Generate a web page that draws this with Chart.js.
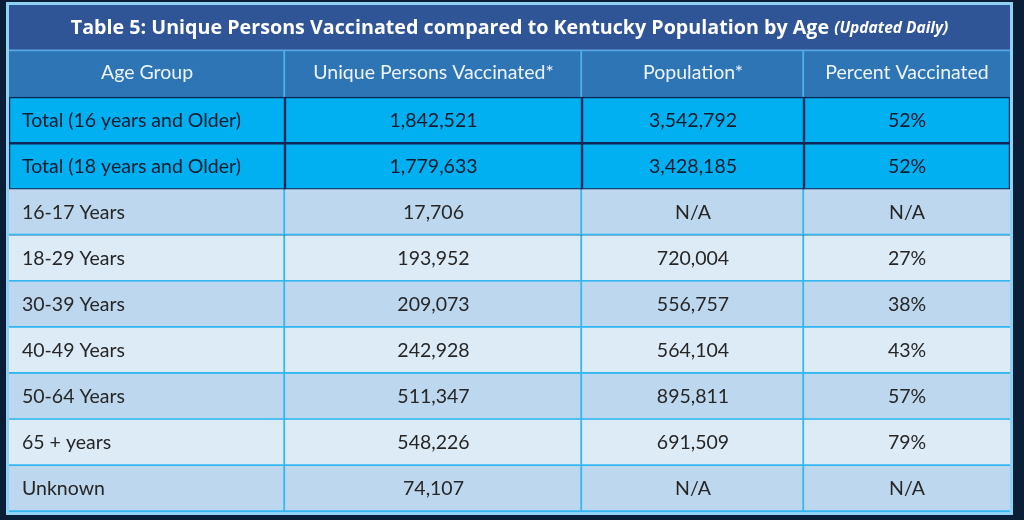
<!DOCTYPE html>
<html>
<head>
<meta charset="utf-8">
<script src="https://cdn.jsdelivr.net/npm/chart.js@4"></script>
<style>
  html, body { margin: 0; padding: 0; background: #0b1e38; }
  #wrap { width: 1024px; height: 520px; }
</style>
</head>
<body>
<div id="wrap"><canvas id="vaxTable" width="1024" height="520"></canvas></div>
<script>
// Table data
const tableTitle = 'Table 5: Unique Persons Vaccinated compared to Kentucky Population by Age';
const tableSubtitle = '(Updated Daily)';
const columnHeaders = ['Age Group', 'Unique Persons Vaccinated*', 'Population*', 'Percent Vaccinated'];
const ageGroups = ['Total (16 years and Older)', 'Total (18 years and Older)', '16-17 Years', '18-29 Years',
  '30-39 Years', '40-49 Years', '50-64 Years', '65 + years', 'Unknown'];
const vaccinated = [1842521, 1779633, 17706, 193952, 209073, 242928, 511347, 548226, 74107];
const population = [3542792, 3428185, null, 720004, 556757, 564104, 895811, 691509, null];
const pctVaccinated = [52, 52, null, 27, 38, 43, 57, 79, null];
const totalRows = 2;

// layout (x scale units), column edges
const colEdges = [0, 276, 573, 795, 1001];

const rowLabels = ['title', 'header'].concat(ageGroups);
const fmt = v => v === null ? 'N/A' : v.toLocaleString('en-US');
const pct = v => v === null ? 'N/A' : v + '%';

const cellText = ageGroups.map((g, i) => [g, fmt(vaccinated[i]), fmt(population[i]), pct(pctVaccinated[i])]);

function rowKind(i) {
  if (i === 0) return 'title';
  if (i === 1) return 'header';
  if (i - 2 < totalRows) return 'total';
  return ((i - 2 - totalRows) % 2 === 0) ? 'odd' : 'even';
}

const fills = { title: '#2f5597', header: '#2e75b6', total: '#00b0f0', odd: '#bdd7ee', even: '#ddebf7' };

const datasets = [{
  label: 'title',
  data: rowLabels.map((r, i) => i === 0 ? [colEdges[0], colEdges[4]] : null),
  backgroundColor: fills.title,
  borderColor: '#5aa8e4',
  borderWidth: { top: 0, left: 0, right: 0, bottom: 2 }
}];

for (let c = 0; c < 4; c++) {
  datasets.push({
    label: columnHeaders[c],
    data: rowLabels.map((r, i) => i === 0 ? null : [colEdges[c], colEdges[c + 1]]),
    backgroundColor: ctx => fills[rowKind(ctx.dataIndex)],
    borderColor: ctx => {
      const k = rowKind(ctx.dataIndex);
      if (k === 'total') return '#0f2858';
      if (k === 'header') return '#4fb0ea';
      return '#33b7f0';
    },
    borderWidth: ctx => {
      const k = rowKind(ctx.dataIndex);
      if (k === 'total') return { top: 1.5, left: 1.5, right: 1.5, bottom: 1.5 };
      if (k === 'header') return { top: 0, left: 0, right: c < 3 ? 2 : 0, bottom: 0 };
      return { top: 0, left: 0, right: c < 3 ? 2 : 0, bottom: 2 };
    }
  });
}

const tableText = {
  id: 'tableText',
  beforeDraw(chart) {
    const c = chart.ctx;
    c.save();
    c.fillStyle = '#0b1e38';
    c.fillRect(0, 0, chart.width, chart.height);
    c.restore();
  },
  afterDatasetsDraw(chart) {
    const { ctx, scales: { x, y }, chartArea } = chart;
    ctx.save();
    ctx.textBaseline = 'middle';

    // title
    const ty = y.getPixelForValue(0);
    ctx.font = 'bold 19.7px "Open Sans"';
    const w1 = ctx.measureText(tableTitle + ' ').width;
    ctx.font = 'italic bold 15.5px "Open Sans"';
    const w2 = ctx.measureText(tableSubtitle).width;
    let tx = (chartArea.left + chartArea.right) / 2 - (w1 + w2) / 2;
    ctx.fillStyle = '#ffffff';
    ctx.textAlign = 'left';
    ctx.font = 'bold 19.7px "Open Sans"';
    ctx.fillText(tableTitle, tx, ty);
    ctx.font = 'italic bold 15.5px "Open Sans"';
    ctx.fillText(tableSubtitle, tx + w1, ty + 1);

    // header
    const hy = y.getPixelForValue(1) - 1;
    ctx.font = '19.5px Lato';
    ctx.fillStyle = '#eef4fb';
    ctx.textAlign = 'center';
    columnHeaders.forEach((h, c) => {
      const cx = x.getPixelForValue((colEdges[c] + colEdges[c + 1]) / 2);
      ctx.fillText(h, cx, hy);
    });

    // body
    ctx.font = '19.5px Lato';
    cellText.forEach((row, r) => {
      const ry = y.getPixelForValue(r + 2);
      ctx.fillStyle = r < totalRows ? '#0d1b2e' : '#262626';
      row.forEach((t, c) => {
        if (c === 0) {
          ctx.textAlign = 'left';
          ctx.fillText(t, x.getPixelForValue(colEdges[0]) + 13, ry);
        } else {
          ctx.textAlign = 'center';
          ctx.fillText(t, x.getPixelForValue((colEdges[c] + colEdges[c + 1]) / 2), ry);
        }
      });
    });

    // outer frame
    ctx.strokeStyle = '#8fd2f4';
    ctx.lineWidth = 3;
    ctx.strokeRect(chartArea.left - 1.5, chartArea.top - 1.5,
      chartArea.right - chartArea.left + 3, chartArea.bottom - chartArea.top + 3);
    ctx.restore();
  }
};

new Chart(document.getElementById('vaxTable'), {
  type: 'bar',
  data: { labels: rowLabels, datasets: datasets },
  options: {
    indexAxis: 'y',
    responsive: false,
    animation: false,
    events: [],
    layout: { padding: { left: 9, right: 14, top: 5, bottom: 8 } },
    datasets: { bar: { grouped: false, barPercentage: 1, categoryPercentage: 1, borderSkipped: false } },
    plugins: { legend: { display: false }, tooltip: { enabled: false } },
    scales: {
      x: { type: 'linear', min: colEdges[0], max: colEdges[4], display: false },
      y: { type: 'category', display: false }
    }
  },
  plugins: [tableText]
});
</script>
</body>
</html>
